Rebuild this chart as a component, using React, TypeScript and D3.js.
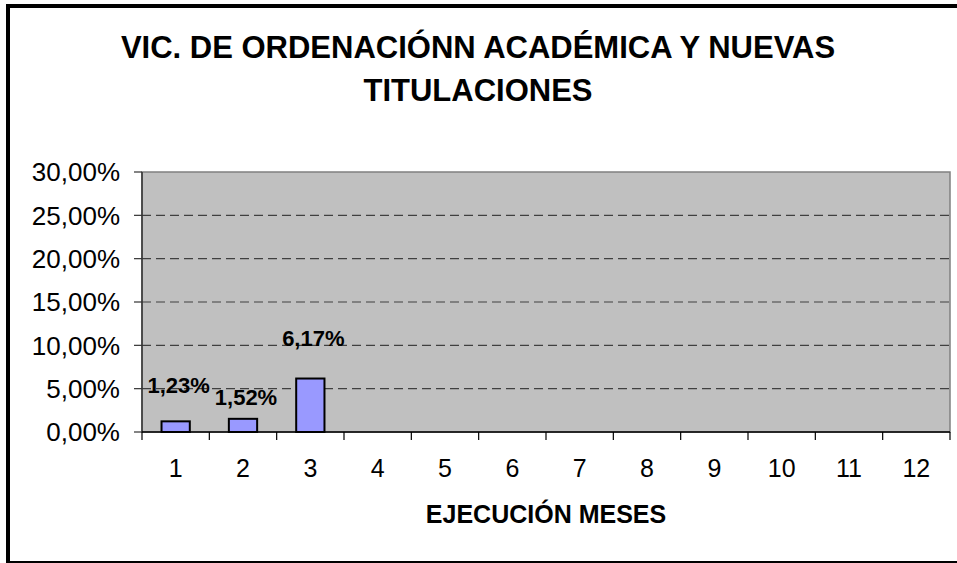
import React from "react";
import * as d3 from "d3";

const months = ["1", "2", "3", "4", "5", "6", "7", "8", "9", "10", "11", "12"];
const values = [0.0123, 0.0152, 0.0617];
const yTicks = [0, 0.05, 0.1, 0.15, 0.2, 0.25, 0.3];
const titleLines = ["VIC. DE ORDENACIÓNN ACADÉMICA Y NUEVAS", "TITULACIONES"];
const xTitle = "EJECUCIÓN MESES";
// layout: vertical offset of each data label above its bar top
const labelOffsets = [28, 14, 33];

const W = 957;
const H = 563;
const plot = { left: 142, right: 950, top: 172, bottom: 432 };
const FONT = "'Liberation Sans', Arial, sans-serif";

const locale = d3.formatLocale({ decimal: ",", thousands: ".", grouping: [3], currency: ["", "€"] });
const pct = locale.format(".2%");

export default function App() {
  const x = d3.scaleBand<string>().domain(months).range([plot.left, plot.right]).paddingInner(0.58).paddingOuter(0.29);
  const xCat = d3.scaleBand<string>().domain(months).range([plot.left, plot.right]).padding(0);
  const y = d3.scaleLinear().domain([0, 0.3]).range([plot.bottom, plot.top]);
  const boundaries = [...months.map((m) => xCat(m)!), plot.right];

  return (
    <svg width={W} height={H} style={{ position: "absolute", left: 0, top: 0, display: "block" }}>
      <rect x={0} y={0} width={W} height={H} fill="#fff" />
      {/* outer frame */}
      <rect x={8} y={6} width={965} height={557} fill="none" stroke="#000" strokeWidth={4} />
      {/* title */}
      {titleLines.map((t, i) => (
        <text key={i} x={478} y={58 + i * 43} textAnchor="middle" fontFamily={FONT} fontWeight="bold" fontSize={31} fill="#000">
          {t}
        </text>
      ))}
      {/* plot area */}
      <rect x={plot.left} y={plot.top} width={plot.right - plot.left} height={plot.bottom - plot.top} fill="#C0C0C0" stroke="#808080" strokeWidth={1.5} />
      {/* gridlines */}
      {yTicks.filter((t) => t > 0 && t < 0.3).map((t) => (
        <line key={t} x1={plot.left} x2={plot.right} y1={y(t)} y2={y(t)} stroke="#404040" strokeWidth={1.2} strokeDasharray="9,5" />
      ))}
      {/* y axis */}
      <line x1={plot.left} x2={plot.left} y1={plot.top} y2={plot.bottom} stroke="#333" strokeWidth={1.5} />
      {yTicks.map((t) => (
        <g key={t}>
          <line x1={plot.left - 8} x2={plot.left} y1={y(t)} y2={y(t)} stroke="#333" strokeWidth={1.2} />
          <text x={plot.left - 22} y={y(t)} dy="0.36em" textAnchor="end" fontFamily={FONT} fontSize={26} fill="#000">
            {pct(t)}
          </text>
        </g>
      ))}
      {/* bars */}
      {values.map((v, i) => (
        <rect key={i} x={x(months[i])!} y={y(v)} width={x.bandwidth()} height={y(0) - y(v)} fill="#9999FF" stroke="#000" strokeWidth={2} />
      ))}
      {/* x axis */}
      <line x1={plot.left} x2={plot.right} y1={plot.bottom} y2={plot.bottom} stroke="#000" strokeWidth={1.5} />
      {boundaries.map((b, i) => (
        <line key={i} x1={b} x2={b} y1={plot.bottom} y2={plot.bottom + 8} stroke="#000" strokeWidth={1.2} />
      ))}
      {months.map((m) => (
        <text key={m} x={xCat(m)! + xCat.bandwidth() / 2} y={477} textAnchor="middle" fontFamily={FONT} fontSize={25} fill="#000">
          {m}
        </text>
      ))}
      {/* data labels */}
      {values.map((v, i) => (
        <text key={i} x={x(months[i])! + x.bandwidth() / 2 + 3} y={y(v) - labelOffsets[i]} textAnchor="middle" fontFamily={FONT} fontWeight="bold" fontSize={22} fill="#000">
          {pct(v)}
        </text>
      ))}
      {/* x title */}
      <text x={(plot.left + plot.right) / 2} y={523} textAnchor="middle" fontFamily={FONT} fontWeight="bold" fontSize={25} fill="#000">
        {xTitle}
      </text>
    </svg>
  );
}
